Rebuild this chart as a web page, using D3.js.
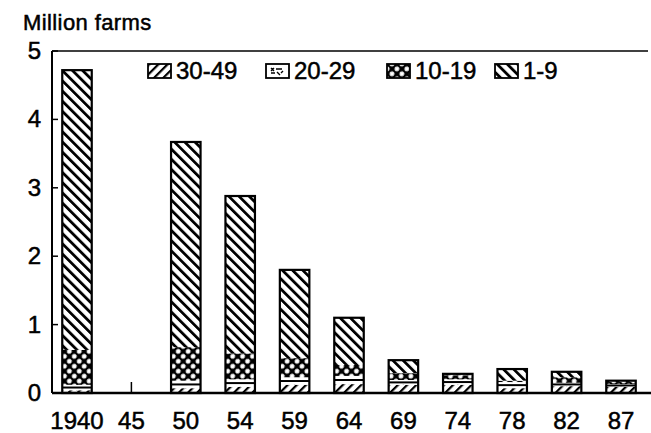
<!DOCTYPE html>
<html><head><meta charset="utf-8">
<script src="https://cdn.jsdelivr.net/npm/d3@7"></script>
<style>body{margin:0;background:#fff}svg{display:block}text{font-family:"Liberation Sans",Arial,sans-serif;fill:#000;stroke:#000;stroke-width:0.5px}</style>
</head><body><svg id="c" width="651" height="433"></svg>
<script>
const categories = ["1940","45","50","54","59","64","69","74","78","82","87"];
const seriesNames = ["30-49","20-29","10-19","1-9"];
const s30_49 = [0.04,null,0.07,0.09,0.12,0.13,0.12,0.12,0.07,0.10,0.09];
const s20_29 = [0.08,null,0.11,0.11,0.11,0.12,0.07,0.08,0.09,0.05,0.04];
const s10_19 = [0.51,null,0.49,0.38,0.28,0.16,0.10,0.06,0.02,0.08,0.03];
const s1_9   = [4.09,null,3.00,2.30,1.29,0.69,0.19,0.02,0.17,0.08,0.02];
const yTicks = [0,1,2,3,4,5];
const yTitle = "Million farms";

const svg = d3.select("#c");
const defs = svg.append("defs");
function lines(id, angle, size, w){
  const p = defs.append("pattern").attr("id",id).attr("patternUnits","userSpaceOnUse")
    .attr("width",size).attr("height",size).attr("patternTransform",`rotate(${angle})`);
  p.append("rect").attr("width",size).attr("height",size).attr("fill","#fff");
  p.append("rect").attr("x",0).attr("width",w).attr("height",size).attr("fill","#000");
}
lines("p30",45,6.5,2.2);
lines("p1",-45,7.2,2.8);
const pd = defs.append("pattern").attr("id","p10").attr("patternUnits","userSpaceOnUse")
  .attr("width",7).attr("height",7).attr("patternTransform","rotate(45)");
pd.append("rect").attr("width",7).attr("height",7).attr("fill","#000");
pd.append("circle").attr("cx",3.5).attr("cy",3.5).attr("r",2.4).attr("fill","#fff");
const fills = {"30-49":"url(#p30)","20-29":"#fff","10-19":"url(#p10)","1-9":"url(#p1)"};

const x = d3.scalePoint().domain(categories).range([77,621]);
const y = d3.scaleLinear().domain([0,5]).range([393,51]);
const bw = 29.5;

const rows = categories.map((c,i)=>({cat:c,"30-49":s30_49[i],"20-29":s20_29[i],"10-19":s10_19[i],"1-9":s1_9[i]}));
const valid = rows.filter(r=>r["1-9"]!=null);
const stacked = d3.stack().keys(seriesNames)(valid);

const g = svg.append("g");
g.selectAll(".xt").data(categories).join("line")
  .attr("x1",d=>x(d)).attr("x2",d=>x(d)).attr("y1",y(0)).attr("y2",y(0)-11)
  .attr("stroke","#000").attr("stroke-width",1.5);
g.selectAll(".yt").data(yTicks).join("line")
  .attr("x1",52).attr("x2",58).attr("y1",d=>y(d)).attr("y2",d=>y(d))
  .attr("stroke","#000").attr("stroke-width",1.5);

stacked.forEach(layer=>{
  svg.append("g").selectAll("rect").data(layer).join("rect")
    .attr("x",d=>x(d.data.cat)-bw/2).attr("width",bw)
    .attr("y",d=>y(d[1])).attr("height",d=>y(d[0])-y(d[1]))
    .attr("fill",fills[layer.key]);
  if(layer.key==="20-29"){
    svg.append("g").selectAll("line").data(layer).join("line")
      .attr("x1",d=>x(d.data.cat)-bw/2).attr("x2",d=>x(d.data.cat)+bw/2)
      .attr("y1",d=>(y(d[0])+y(d[1]))/2).attr("y2",d=>(y(d[0])+y(d[1]))/2)
      .attr("stroke","#000").attr("stroke-width",2);
  }
});
const topLayer = stacked[stacked.length-1];
svg.append("g").selectAll("rect").data(topLayer).join("rect")
  .attr("x",d=>x(d.data.cat)-bw/2).attr("width",bw)
  .attr("y",d=>y(d[1])).attr("height",d=>y(0)-y(d[1]))
  .attr("fill","none").attr("stroke","#000").attr("stroke-width",2.2);

svg.append("line").attr("x1",52).attr("x2",651).attr("y1",y(0)).attr("y2",y(0)).attr("stroke","#000").attr("stroke-width",2.5);
svg.append("line").attr("x1",52).attr("x2",52).attr("y1",y(5)).attr("y2",y(0)).attr("stroke","#000").attr("stroke-width",2);
svg.append("line").attr("x1",52).attr("x2",648).attr("y1",y(5)).attr("y2",y(5)).attr("stroke","#000").attr("stroke-width",1.5);

const fs = 24;
svg.append("g").selectAll("text").data(yTicks).join("text")
  .attr("x",41).attr("y",d=>y(d)+8).attr("text-anchor","end").attr("font-size",fs).text(d=>d);
svg.append("g").selectAll("text").data(categories).join("text")
  .attr("x",d=>x(d)).attr("y",429).attr("text-anchor","middle").attr("font-size",fs).text(d=>d);
svg.append("text").attr("x",23).attr("y",30).attr("font-size",22).attr("letter-spacing",0.4).text(yTitle);

const lx = [148,266,387,495];
const lg = svg.append("g").selectAll("g").data(seriesNames).join("g")
  .attr("transform",(d,i)=>`translate(${lx[i]},64)`);
lg.append("rect").attr("width",23).attr("height",14).attr("fill",d=>fills[d])
  .attr("stroke","#000").attr("stroke-width",1.8);
lg.filter(d=>d==="20-29").append("path")
  .attr("d","M5,4 l3,3 M8,4 l-3,3 M10,5 h6 M11,8 l3,3 M5,9 h4 M15,9 l2,-2")
  .attr("stroke","#000").attr("stroke-width",1.4);
lg.append("text").attr("x",28).attr("y",15).attr("font-size",fs).text(d=>d);
</script></body></html>
